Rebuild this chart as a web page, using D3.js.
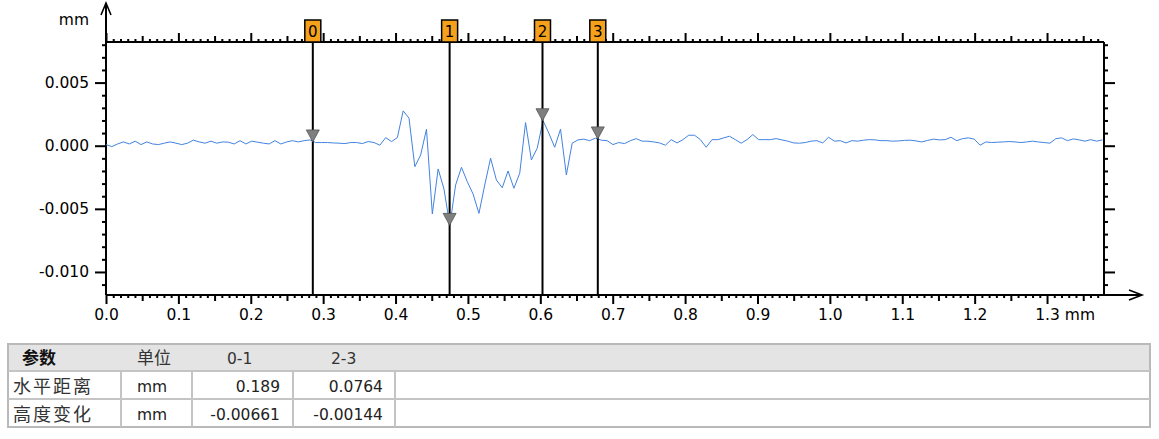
<!DOCTYPE html>
<html><head><meta charset="utf-8">
<script src="https://cdn.jsdelivr.net/npm/d3@7"></script>
<style>
html,body{margin:0;padding:0;background:#fff;}
svg{display:block;font-family:"DejaVu Sans",Verdana,sans-serif;}
</style></head>
<body>
<svg id="chart" width="1159" height="439"></svg>
<script>
// ---------- data ----------
const xStep = 0.00805; // sample spacing (mm)
const profile = [
 0.00009,-0.00007,0.00014,0.00030,0.00014,0.00036,0.00009,0.00030,0.00014,0.00009,
 0.00020,0.00030,0.00020,0.00009,0.00020,0.00044,0.00030,0.00020,0.00036,0.00020,
 0.00030,0.00028,0.00014,0.00040,0.00014,0.00036,0.00028,0.00020,0.00014,0.00040,
 0.00014,0.00030,0.00040,0.00030,0.00040,0.00046,0.00025,0.00025,0.00025,0.00022,
 0.00020,0.00017,0.00025,0.00025,0.00017,0.00033,0.00025,0.00004,0.00064,0.00033,
 0.00064,0.00276,0.00218,-0.00166,-0.00073,0.00131,-0.00541,-0.00184,-0.00343,-0.00631,
 -0.00311,-0.00171,-0.00285,-0.00383,-0.00536,-0.00311,-0.00099,-0.00272,-0.00333,-0.00200,
 -0.00337,-0.00218,0.00183,-0.00113,-0.00020,0.00198,0.00099,-0.00012,0.00131,-0.00232,
 0.00020,0.00046,0.00052,0.00040,0.00060,0.00044,0.00040,0.00009,0.00025,0.00017,
 0.00040,0.00056,0.00036,0.00036,0.00030,0.00022,0.00004,0.00048,0.00022,0.00048,
 0.00083,0.00083,0.00048,-0.00012,0.00048,0.00048,0.00062,0.00075,0.00048,0.00020,
 0.00048,0.00088,0.00048,0.00048,0.00048,0.00056,0.00046,0.00036,0.00022,0.00020,
 0.00025,0.00036,0.00040,0.00022,0.00067,0.00036,0.00040,0.00022,0.00040,0.00036,
 0.00044,0.00048,0.00046,0.00040,0.00040,0.00036,0.00038,0.00042,0.00044,0.00038,
 0.00030,0.00042,0.00052,0.00046,0.00048,0.00067,0.00040,0.00056,0.00062,0.00052,
 0.00004,0.00030,0.00025,0.00028,0.00030,0.00033,0.00030,0.00025,0.00030,0.00036,
 0.00030,0.00025,0.00020,0.00056,0.00062,0.00040,0.00054,0.00046,0.00036,0.00048,
 0.00036,0.00046
];
const cursorIds = ["0","1","2","3"];
const cursorX = [0.2857, 0.4747, 0.6030, 0.6794];
const cursorY = [0.00030, -0.00631, 0.00198, 0.00054];
const xTickValues = [0,0.1,0.2,0.3,0.4,0.5,0.6,0.7,0.8,0.9,1.0,1.1,1.2,1.3];
const xTickLabels = ["0.0","0.1","0.2","0.3","0.4","0.5","0.6","0.7","0.8","0.9","1.0","1.1","1.2","1.3"];
const yTickValues = [0.005, 0, -0.005, -0.010];
const yTickLabels = ["0.005","0.000","-0.005","-0.010"];
const unitLabel = "mm";
const tableHeader = ["参数","单位","0-1","2-3"];
const tableRows = [
  ["水平距离","mm","0.189","0.0764"],
  ["高度变化","mm","-0.00661","-0.00144"]
];

// ---------- layout ----------
const svg = d3.select("#chart");
const L = 106, R = 1104, T = 42, B = 295;
const x = d3.scaleLinear().domain([0, 1.3787]).range([L, R]);
const y = d3.scaleLinear().domain([-0.011825, 0.008215]).range([B, T]);
const FS = 15.5;

const xMinor = d3.range(0, 138).map(i => i / 100).filter(v => Math.round(v*100) % 5 !== 0);
const xMid = d3.range(0, 14).map(i => i / 10 + 0.05).filter(v => v < 1.378);
const yMinor = d3.range(-11, 9).map(i => i / 1000).filter(v => Math.abs(Math.round(v*1000)) % 5 !== 0);

function axisStyle(g){
  g.select(".domain").remove();
  g.selectAll("line").attr("stroke","#000").attr("stroke-width",2);
  g.selectAll("text").attr("fill","#000").attr("font-size",FS).attr("font-family","DejaVu Sans");
}

// top axis
svg.append("g").attr("transform",`translate(0,${T})`)
  .call(d3.axisTop(x).tickValues(xTickValues).tickSize(9).tickFormat("")).call(axisStyle);
svg.append("g").attr("transform",`translate(0,${T})`)
  .call(d3.axisTop(x).tickValues(xMid).tickSize(6).tickFormat("")).call(axisStyle);
svg.append("g").attr("transform",`translate(0,${T})`)
  .call(d3.axisTop(x).tickValues(xMinor).tickSize(3).tickFormat("")).call(axisStyle);
// bottom axis
const bx = svg.append("g").attr("transform",`translate(0,${B})`)
  .call(d3.axisBottom(x).tickValues(xTickValues).tickSize(9).tickPadding(5)
    .tickFormat((d,i) => xTickLabels[i])).call(axisStyle);
svg.append("g").attr("transform",`translate(0,${B})`)
  .call(d3.axisBottom(x).tickValues(xMid).tickSize(6).tickFormat("")).call(axisStyle);
svg.append("g").attr("transform",`translate(0,${B})`)
  .call(d3.axisBottom(x).tickValues(xMinor).tickSize(3).tickFormat("")).call(axisStyle);
bx.selectAll(".tick text").filter((d,i) => i === xTickLabels.length - 1)
  .each(function(){
    const t = d3.select(this);
    const w = this.getComputedTextLength();
    t.attr("text-anchor","start").attr("x",-w/2).text(xTickLabels[xTickLabels.length-1] + " " + unitLabel);
  });
// left axis
svg.append("g").attr("transform",`translate(${L},0)`)
  .call(d3.axisLeft(y).tickValues(yTickValues).tickSize(11).tickPadding(6)
    .tickFormat((d,i) => yTickLabels[i])).call(axisStyle);
svg.append("g").attr("transform",`translate(${L},0)`)
  .call(d3.axisLeft(y).tickValues(yMinor).tickSize(4).tickFormat("")).call(axisStyle);
// right axis
svg.append("g").attr("transform",`translate(${R},0)`)
  .call(d3.axisRight(y).tickValues(yTickValues).tickSize(11).tickFormat("")).call(axisStyle);
svg.append("g").attr("transform",`translate(${R},0)`)
  .call(d3.axisRight(y).tickValues(yMinor).tickSize(4).tickFormat("")).call(axisStyle);

// axis lines
const ax = svg.append("g").attr("stroke","#000").attr("stroke-width",2).attr("fill","none");
ax.append("line").attr("x1",L).attr("x2",R).attr("y1",T).attr("y2",T);
ax.append("line").attr("x1",R).attr("x2",R).attr("y1",T).attr("y2",B);
ax.append("line").attr("x1",L).attr("x2",L).attr("y1",B).attr("y2",3);
ax.append("line").attr("x1",L).attr("x2",1141).attr("y1",B).attr("y2",B);
ax.append("path").attr("d",`M${L-5},15 L${L},3 L${L+5},15`).attr("stroke-width",1.6);
ax.append("path").attr("d",`M1129,${B-5} L1142,${B} L1129,${B+5}`).attr("stroke-width",1.6);

svg.append("text").attr("x",89).attr("y",25).attr("text-anchor","end")
  .attr("font-size",FS).attr("fill","#000").text(unitLabel);

// profile line
const line = d3.line().x((d,i) => x(i * xStep)).y(d => y(d));
svg.append("path").datum(profile).attr("d",line)
  .attr("fill","none").attr("stroke","#4283e0").attr("stroke-width",1);

// cursors
const cur = svg.append("g").selectAll("g").data(cursorIds).join("g");
cur.append("line")
  .attr("x1",(d,i)=>x(cursorX[i])).attr("x2",(d,i)=>x(cursorX[i]))
  .attr("y1",T).attr("y2",B).attr("stroke","#000").attr("stroke-width",2);
cur.append("path")
  .attr("d",(d,i)=>{const cx=x(cursorX[i]), cy=y(cursorY[i]); return `M${cx-6.5},${cy-12} L${cx+6.5},${cy-12} L${cx},${cy} Z`;})
  .attr("fill","#7f7f7f").attr("stroke","#555").attr("stroke-width",0.8);
cur.append("rect")
  .attr("x",(d,i)=>x(cursorX[i])-8).attr("y",20).attr("width",16).attr("height",22)
  .attr("fill","#f5a11c").attr("stroke","#000").attr("stroke-width",1.5);
cur.append("text")
  .attr("x",(d,i)=>x(cursorX[i])).attr("y",37).attr("text-anchor","middle")
  .attr("font-size",15).attr("fill","#000").text(d=>d);

// ---------- table ----------
const TL = 8, TR = 1150, rowTop = [344, 371, 399], rowH = [27, 28, 28];
const colLines = [121, 192, 293, 395];
const tb = svg.append("g");
tb.append("rect").attr("x",TL).attr("y",rowTop[0]).attr("width",TR-TL).attr("height",rowH[0]).attr("fill","#e4e4e4");
tb.append("rect").attr("x",TL).attr("y",rowTop[0]).attr("width",TR-TL).attr("height",427-rowTop[0])
  .attr("fill","none").attr("stroke","#b9b9b9").attr("stroke-width",2);
[371, 399].forEach(yy => tb.append("line").attr("x1",TL).attr("x2",TR).attr("y1",yy).attr("y2",yy).attr("stroke","#c4c4c4").attr("stroke-width",2));
colLines.forEach(xx => tb.append("line").attr("x1",xx).attr("x2",xx).attr("y1",371).attr("y2",427).attr("stroke","#c4c4c4").attr("stroke-width",2));

const cjk = "'Noto Sans CJK SC','DejaVu Sans',sans-serif";
const hx = [22, 137, 227, 331];
tableHeader.forEach((t,i) => tb.append("text").attr("x",hx[i]).attr("y",364)
  .attr("font-family", i < 2 ? cjk : "DejaVu Sans").attr("font-size", i < 2 ? 17 : FS)
  .attr("font-weight", i===0 ? "bold" : "normal")
  .attr("fill", i===0 ? "#111" : "#333").text(t));
tableRows.forEach((r,ri) => {
  const by = 392 + ri*28;
  tb.append("text").attr("x",13).attr("y",by+1).attr("font-family",cjk).attr("font-size",18).attr("letter-spacing",2).attr("fill","#333").text(r[0]);
  tb.append("text").attr("x",137).attr("y",by).attr("font-size",FS).attr("fill","#222").text(r[1]);
  tb.append("text").attr("x",280).attr("y",by).attr("text-anchor","end").attr("font-size",FS).attr("fill","#222").text(r[2]);
  tb.append("text").attr("x",383).attr("y",by).attr("text-anchor","end").attr("font-size",FS).attr("fill","#222").text(r[3]);
});
</script>
</body></html>
